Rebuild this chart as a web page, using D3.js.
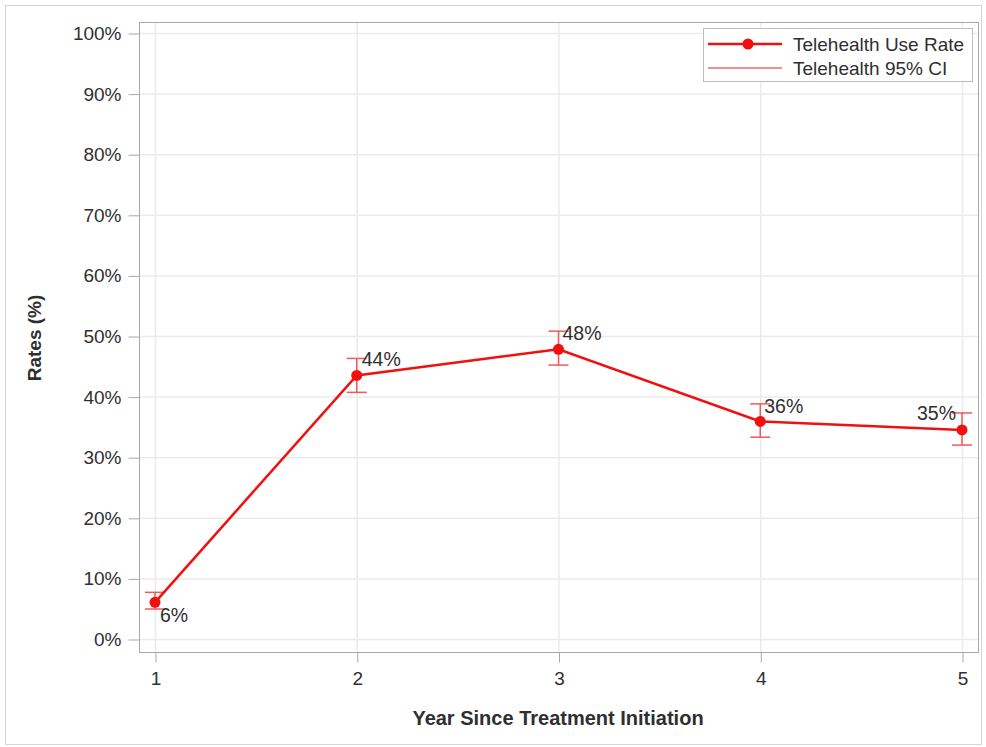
<!DOCTYPE html>
<html>
<head>
<meta charset="utf-8">
<script src="https://cdn.jsdelivr.net/npm/d3@7"></script>
<style>
  html, body { margin: 0; padding: 0; background: #fff; }
  svg { display: block; font-family: "Liberation Sans", Arial, sans-serif; }
</style>
</head>
<body>
<svg id="chart" width="986" height="747"></svg>
<script>
// Telehealth use by year since treatment initiation
const years = [1, 2, 3, 4, 5];
const useRate = [6.05, 43.5, 47.8, 35.9, 34.5];
const ciLower = [4.95, 40.7, 45.2, 33.3, 32.0];
const ciUpper = [7.7, 46.3, 50.8, 38.8, 37.3];
const rateLabels = ["6%", "44%", "48%", "36%", "35%"];
const yTicks = [0, 10, 20, 30, 40, 50, 60, 70, 80, 90, 100];
const xTicks = [1, 2, 3, 4, 5];

const svg = d3.select("#chart");
const red = "#f01010";
const ciRed = "#ef5a5a";
const textColor = "#2f2f2f";

// outer frame
svg.append("rect").attr("x", 5.5).attr("y", 5.5).attr("width", 976).attr("height", 739)
  .attr("fill", "none").attr("stroke", "#d6d6d6").attr("stroke-width", 1);

const plot = { left: 139, right: 978, top: 22, bottom: 652 };

const x = d3.scaleLinear().domain([1, 5]).range([155, 962]);
const y = d3.scaleLinear().domain([0, 100]).range([639, 33]);

// grid
const grid = svg.append("g");
grid.selectAll(".gy").data(yTicks).join("line")
  .attr("x1", plot.left).attr("x2", plot.right)
  .attr("y1", d => y(d) + 0.5).attr("y2", d => y(d) + 0.5)
  .attr("stroke", "#ebebeb").attr("stroke-width", 1.5);
grid.selectAll(".gx").data(xTicks).join("line")
  .attr("y1", plot.top).attr("y2", plot.bottom)
  .attr("x1", d => x(d) + 0.5).attr("x2", d => x(d) + 0.5)
  .attr("stroke", "#ebebeb").attr("stroke-width", 1.5);

// plot frame
svg.append("rect").attr("x", plot.left + 0.5).attr("y", plot.top + 0.5)
  .attr("width", plot.right - plot.left).attr("height", plot.bottom - plot.top)
  .attr("fill", "none").attr("stroke", "#a8a8a8").attr("stroke-width", 1);

// axes
const yAxis = d3.axisLeft(y).tickValues(yTicks).tickFormat(d => d + "%").tickSize(11).tickPadding(7);
const gy = svg.append("g").attr("transform", `translate(${plot.left + 0.5},0.5)`).call(yAxis);
gy.select(".domain").remove();
gy.selectAll(".tick line").attr("stroke", "#a8a8a8");
gy.selectAll(".tick text").attr("font-size", 19).attr("fill", textColor);

const xAxis = d3.axisBottom(x).tickValues(xTicks).tickFormat(d3.format("d")).tickSize(10).tickPadding(9);
const gx = svg.append("g").attr("transform", `translate(0.5,${plot.bottom + 0.5})`).call(xAxis);
gx.select(".domain").remove();
gx.selectAll(".tick line").attr("stroke", "#a8a8a8");
gx.selectAll(".tick text").attr("font-size", 19).attr("fill", textColor);

// axis titles
svg.append("text").attr("x", 558).attr("y", 725).attr("text-anchor", "middle")
  .attr("font-size", 20).attr("font-weight", "bold").attr("fill", textColor)
  .text("Year Since Treatment Initiation");
svg.append("text").attr("transform", "translate(41,338) rotate(-90)").attr("text-anchor", "middle")
  .attr("font-size", 19).attr("font-weight", "bold").attr("fill", textColor)
  .text("Rates (%)");

const data = years.map((yr, i) => ({ yr, v: useRate[i], lo: ciLower[i], hi: ciUpper[i], lab: rateLabels[i] }));

// confidence intervals
const ci = svg.append("g").attr("stroke", ciRed).attr("stroke-width", 1.5);
ci.selectAll(".v").data(data).join("line")
  .attr("x1", d => x(d.yr)).attr("x2", d => x(d.yr))
  .attr("y1", d => y(d.lo)).attr("y2", d => y(d.hi));
ci.selectAll(".t").data(data).join("line")
  .attr("x1", d => x(d.yr) - 10).attr("x2", d => x(d.yr) + 10)
  .attr("y1", d => y(d.hi)).attr("y2", d => y(d.hi));
ci.selectAll(".b").data(data).join("line")
  .attr("x1", d => x(d.yr) - 10).attr("x2", d => x(d.yr) + 10)
  .attr("y1", d => y(d.lo)).attr("y2", d => y(d.lo));

// rate line and markers
svg.append("path").datum(data)
  .attr("d", d3.line().x(d => x(d.yr)).y(d => y(d.v)))
  .attr("fill", "none").attr("stroke", red).attr("stroke-width", 2.5);
svg.append("g").selectAll("circle").data(data).join("circle")
  .attr("cx", d => x(d.yr)).attr("cy", d => y(d.v)).attr("r", 5.5).attr("fill", red);

// value labels
const labelPos = [
  { dx: 5, dy: 20, anchor: "start" },
  { dx: 5, dy: -9, anchor: "start" },
  { dx: 4, dy: -9, anchor: "start" },
  { dx: 4, dy: -8, anchor: "start" },
  { dx: -6, dy: -10, anchor: "end" }
];
svg.append("g").selectAll("text").data(data).join("text")
  .attr("x", (d, i) => x(d.yr) + labelPos[i].dx)
  .attr("y", (d, i) => y(d.v) + labelPos[i].dy)
  .attr("text-anchor", (d, i) => labelPos[i].anchor)
  .attr("font-size", 19.5).attr("fill", textColor)
  .text(d => d.lab);

// legend
const lg = svg.append("g");
lg.append("rect").attr("x", 703.5).attr("y", 28.5).attr("width", 269).attr("height", 53)
  .attr("fill", "#fff").attr("stroke", "#bdbdbd");
lg.append("line").attr("x1", 708).attr("x2", 782).attr("y1", 44).attr("y2", 44)
  .attr("stroke", red).attr("stroke-width", 2.5);
lg.append("circle").attr("cx", 748).attr("cy", 44).attr("r", 5.5).attr("fill", red);
lg.append("line").attr("x1", 708).attr("x2", 782).attr("y1", 68).attr("y2", 68)
  .attr("stroke", "#e02020").attr("stroke-width", 1.2);
lg.append("text").attr("x", 793).attr("y", 51).attr("font-size", 19).attr("fill", textColor)
  .text("Telehealth Use Rate");
lg.append("text").attr("x", 793).attr("y", 75).attr("font-size", 19).attr("fill", textColor)
  .text("Telehealth 95% CI");
</script>
</body>
</html>
